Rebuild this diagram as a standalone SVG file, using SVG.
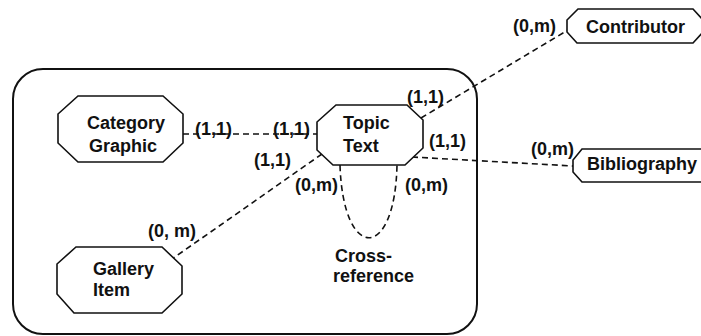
<svg xmlns="http://www.w3.org/2000/svg" width="701" height="336" viewBox="0 0 701 336">
<style>
.ent{fill:#fff;stroke:#111;stroke-width:1.6}
.frame{fill:none;stroke:#111;stroke-width:2}
.t{font-family:"Liberation Sans",Arial,sans-serif;font-weight:bold;font-size:18px;fill:#111}
.lnk{fill:none;stroke:#111;stroke-width:1.6;stroke-dasharray:6,4}
</style>
<rect width="701" height="336" fill="#fff"/>
<rect class="frame" x="13" y="69" width="464" height="265" rx="30" ry="30"/>
<g id="connectors">
<line class="lnk" x1="183" y1="134" x2="317" y2="134"/>
<line class="lnk" x1="322" y1="154" x2="172" y2="259"/>
<line class="lnk" x1="421" y1="118" x2="568" y2="30"/>
<line class="lnk" x1="412" y1="157" x2="573" y2="166"/>
<path class="lnk" d="M340,165 C343,262 395,262 397,165"/>
</g>
<g id="labels">
<text class="t" x="195" y="135">(1,1)</text>
<text class="t" x="273" y="135">(1,1)</text>
<text class="t" x="254" y="166">(1,1)</text>
<text class="t" x="148" y="237">(0, m)</text>
<text class="t" x="295" y="191">(0,m)</text>
<text class="t" x="405" y="191">(0,m)</text>
<text class="t" x="407" y="103">(1,1)</text>
<text class="t" x="513" y="32">(0,m)</text>
<text class="t" x="429" y="147">(1,1)</text>
<text class="t" x="531" y="155">(0,m)</text>
</g>
<g id="category-graphic">
<polygon class="ent" points="78,96 163,96 183,114 183,143 163,162 78,162 58,143 58,114"/>
<text class="t" x="87" y="129">Category</text>
<text class="t" x="89" y="152">Graphic</text>
</g>
<g id="topic-text">
<polygon class="ent" points="336,105 407,105 423,120 423,148 405,165 333,165 317,150 317,122"/>
<text class="t" x="343" y="129">Topic</text>
<text class="t" x="343" y="152">Text</text>
</g>
<g id="gallery-item">
<polygon class="ent" points="76,247 162,247 182,266 182,294 162,313 74,313 57,294 57,264"/>
<text class="t" x="93" y="275">Gallery</text>
<text class="t" x="93" y="296">Item</text>
</g>
<g id="cross-reference">
<text class="t" x="335" y="262">Cross-</text>
<text class="t" x="333" y="282">reference</text>
</g>
<g id="contributor">
<polygon class="ent" points="578,9 693,9 703,20 703,32 693,43 577,43 567,32 567,20"/>
<text class="t" x="586" y="33">Contributor</text>
</g>
<g id="bibliography">
<polygon class="ent" points="582,149 705,149 715,160 715,172 705,182 582,182 573,172 573,160"/>
<text class="t" x="587" y="170">Bibliography</text>
</g>
</svg>
